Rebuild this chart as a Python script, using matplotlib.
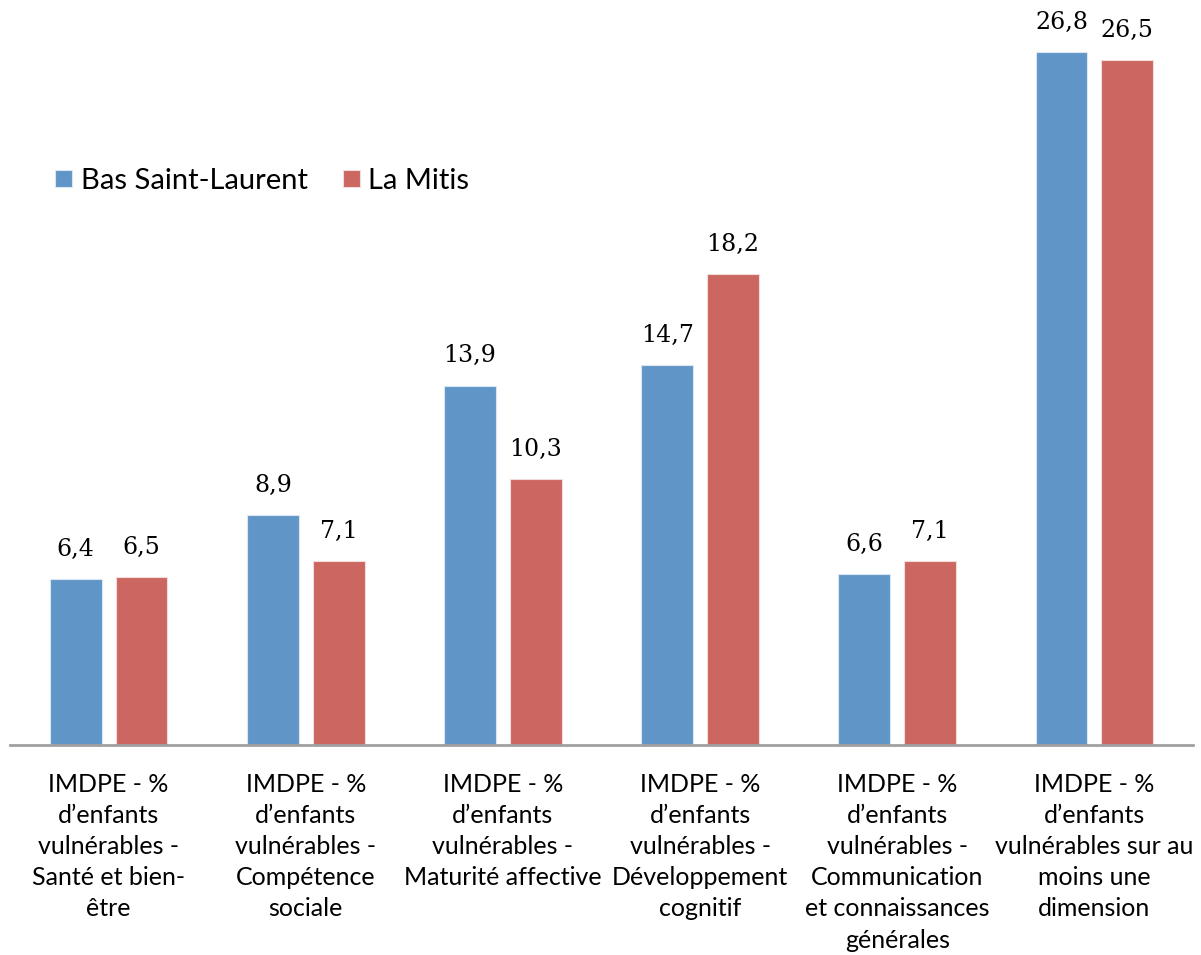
import numpy as np
import matplotlib
matplotlib.use("Agg")
import matplotlib.pyplot as plt

categories = [
    "IMDPE - %\nd’enfants\nvulnérables -\nSanté et bien-\nêtre",
    "IMDPE - %\nd’enfants\nvulnérables -\nCompétence\nsociale",
    "IMDPE - %\nd’enfants\nvulnérables -\nMaturité affective",
    "IMDPE - %\nd’enfants\nvulnérables -\nDéveloppement\ncognitif",
    "IMDPE - %\nd’enfants\nvulnérables -\nCommunication\net connaissances\ngénérales",
    "IMDPE - %\nd’enfants\nvulnérables sur au\nmoins une\ndimension",
]
bas_saint_laurent = [6.4, 8.9, 13.9, 14.7, 6.6, 26.8]
la_mitis = [6.5, 7.1, 10.3, 18.2, 7.1, 26.5]
series_names = ["Bas Saint-Laurent", "La Mitis"]

bleu = "#5F96C7"
rouge = "#CC6660"

fig = plt.figure(figsize=(12.01, 9.55), dpi=100)
ax = fig.add_axes([10 / 1201, 1 - 745 / 955, 1183 / 1201, 735 / 955])

x = np.arange(len(categories))
w = 0.263
off = 0.167
b1 = ax.bar(x - off, bas_saint_laurent, w, color=bleu, edgecolor="#DCE6F2", linewidth=0.8,
            label=series_names[0])
b2 = ax.bar(x + off, la_mitis, w, color=rouge, edgecolor="#F2DCDB", linewidth=0.8,
            label=series_names[1])

for barres, vals in [(b1, bas_saint_laurent), (b2, la_mitis)]:
    for b, v in zip(barres, vals):
        ax.annotate(f"{v:.1f}".replace(".", ","), (b.get_x() + b.get_width() / 2, v),
                    xytext=(0, 13), textcoords="offset points", ha="center", va="bottom",
                    fontsize=17, family="DejaVu Serif")

ax.set_xlim(-0.5, 5.5)
ax.set_ylim(0, 28.42)
ax.set_xticks(x)
ax.set_xticklabels(categories, fontsize=18, family="Lato", linespacing=1.43, va="top")
ax.tick_params(axis="x", length=0, pad=20)
ax.set_yticks([])
for s in ["top", "right", "left"]:
    ax.spines[s].set_visible(False)
ax.spines["bottom"].set_color("#A0A0A0")
ax.spines["bottom"].set_linewidth(2)

ax.legend(loc="center left", bbox_to_anchor=(0.038, 0.767), ncol=2, frameon=False,
          prop={"family": "Lato", "size": 21}, handlelength=0.58, handleheight=0.52,
          handletextpad=0.3, columnspacing=1.2, borderaxespad=0, borderpad=0)

fig.savefig("out.png", dpi=100)
